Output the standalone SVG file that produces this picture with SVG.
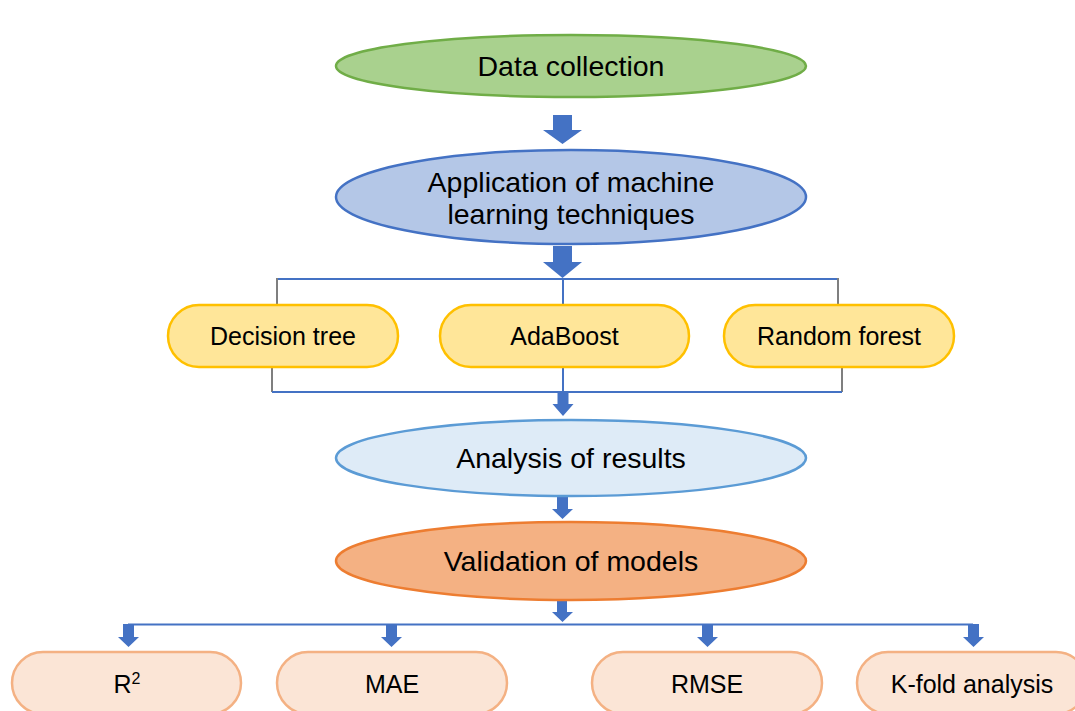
<svg xmlns="http://www.w3.org/2000/svg" width="1075" height="711" viewBox="0 0 1075 711">
  <style>
    text { font-family: "Liberation Sans", Arial, sans-serif; fill: #000; text-anchor: middle; }
    .big { font-size: 28.5px; }
    .mid { font-size: 25px; }
    .wire { fill: none; stroke: #4472c4; stroke-width: 2; }
    .grey { fill: none; stroke: #7f7f7f; stroke-width: 2; }
    .block { fill: #4472c4; stroke: none; }
    .alg { fill: #ffe699; stroke: #ffc000; stroke-width: 2.5; }
    .metric { fill: #fbe5d6; stroke: #f4b183; stroke-width: 2.5; }
  </style>
  <rect width="1075" height="711" fill="#ffffff"/>

  <!-- connectors -->
  <g id="connectors">
    <path class="block" d="M553,115 H572 V130 H582 L562.5,144 L543,130 H553 Z"/>
    <path class="block" d="M553,246 H572 V262 H582 L562.5,278 L543,262 H553 Z"/>
    <!-- fan-out bracket above the algorithms -->
    <path class="wire" d="M277,279 H838"/>
    <path class="wire" d="M563,279 V305"/>
    <path class="grey" d="M277,278 V305"/>
    <path class="grey" d="M838,278 V305"/>
    <!-- fan-in bracket below the algorithms -->
    <path class="grey" d="M272,367 V392"/>
    <path class="grey" d="M842,367 V392"/>
    <path class="wire" d="M563,367 V392"/>
    <path class="wire" d="M272,392 H842"/>
    <path class="block" d="M557.5,392 H568.5 V404 H573.5 L563,416 L552.5,404 H557.5 Z"/>
    <path class="block" d="M557,497 H568 V509 H573 L562.5,519 L552,509 H557 Z"/>
    <path class="block" d="M557,600 H567 V612 H573 L562.5,622 L552,612 H557 Z"/>
    <!-- distribution line to the metrics -->
    <path class="wire" d="M128,624.5 H973"/>
    <path class="block" d="M123,624 H134 V637 H139 L128.5,647 L118,637 H123 Z"/>
    <path class="block" d="M386,624 H397 V637 H402 L391.5,647 L381,637 H386 Z"/>
    <path class="block" d="M702,624 H713 V637 H718 L707.5,647 L697,637 H702 Z"/>
    <path class="block" d="M968,624 H979 V637 H984 L973.5,647 L963,637 H968 Z"/>
  </g>

  <g id="data-collection">
    <ellipse cx="571" cy="66" rx="235" ry="31" fill="#a9d18e" stroke="#70ad47" stroke-width="2.5"/>
    <text class="big" x="571" y="76">Data collection</text>
  </g>

  <g id="ml-techniques">
    <ellipse cx="571" cy="197" rx="235" ry="47" fill="#b4c7e7" stroke="#4472c4" stroke-width="2.5"/>
    <text class="big" x="571" y="192">Application of machine</text>
    <text class="big" x="571" y="224">learning techniques</text>
  </g>

  <g id="decision-tree">
    <rect class="alg" x="168" y="305" width="230" height="62" rx="31"/>
    <text class="mid" x="283" y="345">Decision tree</text>
  </g>
  <g id="adaboost">
    <rect class="alg" x="440" y="305" width="249" height="62" rx="31"/>
    <text class="mid" x="564.5" y="345">AdaBoost</text>
  </g>
  <g id="random-forest">
    <rect class="alg" x="724" y="305" width="230" height="62" rx="31"/>
    <text class="mid" x="839" y="345">Random forest</text>
  </g>

  <g id="analysis">
    <ellipse cx="571" cy="458" rx="235" ry="38" fill="#deebf7" stroke="#5b9bd5" stroke-width="2.5"/>
    <text class="big" x="571" y="468">Analysis of results</text>
  </g>

  <g id="validation">
    <ellipse cx="571" cy="561" rx="235" ry="39" fill="#f4b183" stroke="#ed7d31" stroke-width="2.5"/>
    <text class="big" x="571" y="571">Validation of models</text>
  </g>

  <g id="r2">
    <rect class="metric" x="12" y="652" width="229" height="62" rx="31"/>
    <text class="mid" x="127" y="693">R<tspan font-size="16" dy="-9">2</tspan></text>
  </g>
  <g id="mae">
    <rect class="metric" x="277" y="652" width="230" height="62" rx="31"/>
    <text class="mid" x="392" y="693">MAE</text>
  </g>
  <g id="rmse">
    <rect class="metric" x="592" y="652" width="230" height="62" rx="31"/>
    <text class="mid" x="707" y="693">RMSE</text>
  </g>
  <g id="k-fold">
    <rect class="metric" x="857" y="652" width="230" height="62" rx="31"/>
    <text class="mid" x="972" y="693">K-fold analysis</text>
  </g>
</svg>
